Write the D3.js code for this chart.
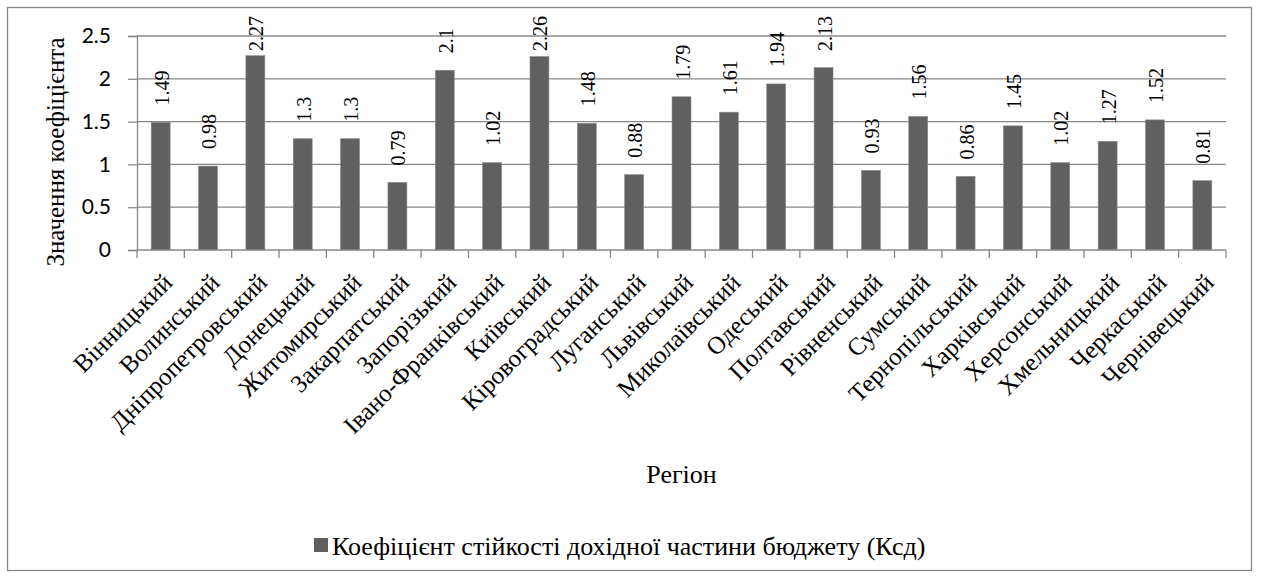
<!DOCTYPE html>
<html>
<head>
  <meta charset="utf-8">
  <script src="https://cdnjs.cloudflare.com/ajax/libs/d3/7.8.5/d3.min.js"></script>
  <style>
    svg text.serif { font-family: "Liberation Serif" !important; }
    svg text.sans { font-family: "Lato" !important; }
  </style>
</head>
<body style="margin:0">
<script>
// regions and the coefficient values
var regions = ["Вінницький", "Волинський", "Дніпропетровський", "Донецький", "Житомирський",
  "Закарпатський", "Запорізький", "Івано-Франківський", "Київський", "Кіровоградський",
  "Луганський", "Львівський", "Миколаївський", "Одеський", "Полтавський", "Рівненський",
  "Сумський", "Тернопільський", "Харківський", "Херсонський", "Хмельницький",
  "Черкаський", "Чернівецький"];
var values = [1.49, 0.98, 2.27, 1.3, 1.3, 0.79, 2.1, 1.02, 2.26, 1.48, 0.88, 1.79, 1.61,
  1.94, 2.13, 0.93, 1.56, 0.86, 1.45, 1.02, 1.27, 1.52, 0.81];
var yTicks = [0, 0.5, 1, 1.5, 2, 2.5];
var seriesName = "Коефіцієнт стійкості дохідної частини бюджету (Ксд)";
var yTitle = "Значення коефіцієнта";
var xTitle = "Регіон";

var width = 1262, height = 577;
var grey = "#878787", barColor = "#606060";
var serifFace = "Liberation Serif";
var sansFace = "Lato";

// touch both faces once so they are loaded before the svg text is laid out
var warm = document.createElement("canvas").getContext("2d");
[serifFace, sansFace].forEach(function(f) {
  warm.font = "26px \"" + f + "\"";
  warm.measureText("Регіон 2.27");
});

// put the face on a text in every way at once
function face(sel, f, size) {
  sel.attr("class", f === serifFace ? "serif" : "sans")
    .attr("font-family", "\"" + f + "\"")
    .attr("font-size", size)
    .style("font-family", "\"" + f + "\"", "important")
    .style("font-size", size + "px");
  return sel;
}

var svg = d3.select("body").append("svg")
  .attr("width", width)
  .attr("height", height);

// outer chart border
svg.append("rect")
  .attr("x", 7.5).attr("y", 7.5)
  .attr("width", 1244).attr("height", 563)
  .attr("fill", "#fff").attr("stroke", grey).attr("stroke-width", 1.3);

// plot area (don't call these top/left: window.top is read-only)
var pLeft = 137, pRight = 1226, pTop = 36, pBottom = 250;

var x = d3.scaleBand().domain(regions).range([pLeft, pRight]).paddingInner(0.6).paddingOuter(0.3);
var y = d3.scaleLinear().domain([0, 2.5]).range([pBottom, pTop]);

// gridlines
svg.append("g").selectAll("line")
  .data(yTicks.filter(function(d) { return d > 0; }))
  .enter().append("line")
  .attr("x1", pLeft).attr("x2", pRight)
  .attr("y1", function(d) { return y(d); }).attr("y2", function(d) { return y(d); })
  .attr("stroke", grey).attr("stroke-width", 1.3);

// y axis
var yAxis = svg.append("g")
  .attr("transform", "translate(" + pLeft + ",0)")
  .call(d3.axisLeft(y).tickValues(yTicks).tickSize(9).tickPadding(17).tickFormat(d3.format("")));
yAxis.attr("font-family", null).attr("font-size", null);
yAxis.select(".domain").attr("stroke", grey).attr("stroke-width", 1.3);
yAxis.selectAll(".tick line").attr("stroke", grey).attr("stroke-width", 1.3);
face(yAxis.selectAll("text"), sansFace, 21).attr("fill", "#000");

// bars
svg.append("g").selectAll("rect")
  .data(values)
  .enter().append("rect")
  .attr("x", function(d, i) { return x(regions[i]); })
  .attr("y", function(d) { return y(d); })
  .attr("width", x.bandwidth())
  .attr("height", function(d) { return y(0) - y(d); })
  .attr("fill", barColor)
  .attr("stroke", "#8a8a8a").attr("stroke-width", 0.6);

// x axis line and ticks at category boundaries
var bounds = d3.range(regions.length + 1).map(function(i) { return pLeft + i * (pRight - pLeft) / regions.length; });
svg.append("line")
  .attr("x1", pLeft).attr("x2", pRight).attr("y1", pBottom).attr("y2", pBottom)
  .attr("stroke", grey).attr("stroke-width", 1.3);
svg.append("g").selectAll("line")
  .data(bounds)
  .enter().append("line")
  .attr("x1", function(d) { return d; }).attr("x2", function(d) { return d; })
  .attr("y1", pBottom).attr("y2", pBottom + 8)
  .attr("stroke", grey).attr("stroke-width", 1.3);

// category labels, rotated
face(svg.append("g").selectAll("text")
  .data(regions)
  .enter().append("text"), serifFace, 25)
  .attr("text-anchor", "end")
  .attr("transform", function(d) {
    var cx = x(d) + x.bandwidth() / 2 + 13;
    return "translate(" + cx + "," + 284 + ") rotate(-45)";
  })
  .text(function(d) { return d; });

// value labels, vertical; pushed down when they would leave the chart
face(svg.append("g").selectAll("text")
  .data(values)
  .enter().append("text"), serifFace, 20)
  .attr("text-anchor", "start")
  .text(function(d) { return d; })
  .attr("transform", function(d, i) {
    var len = this.getComputedTextLength();
    var cx = x(regions[i]) + x.bandwidth() / 2 + 8;
    var yb = Math.max(y(d) - 17, 16 + len);
    return "translate(" + cx + "," + yb + ") rotate(-90)";
  });

// axis titles
face(svg.append("text"), serifFace, 25)
  .attr("text-anchor", "middle")
  .attr("transform", "translate(64,152) rotate(-90)")
  .text(yTitle);

face(svg.append("text"), serifFace, 26)
  .attr("text-anchor", "middle")
  .attr("x", (pLeft + pRight) / 2).attr("y", 483)
  .text(xTitle);

// legend
var legend = svg.append("g");
legend.append("rect")
  .attr("x", 314).attr("y", 538).attr("width", 14).attr("height", 14)
  .attr("fill", barColor);
face(legend.append("text"), serifFace, 26)
  .attr("x", 332).attr("y", 555)
  .text(seriesName);
</script>
</body>
</html>
